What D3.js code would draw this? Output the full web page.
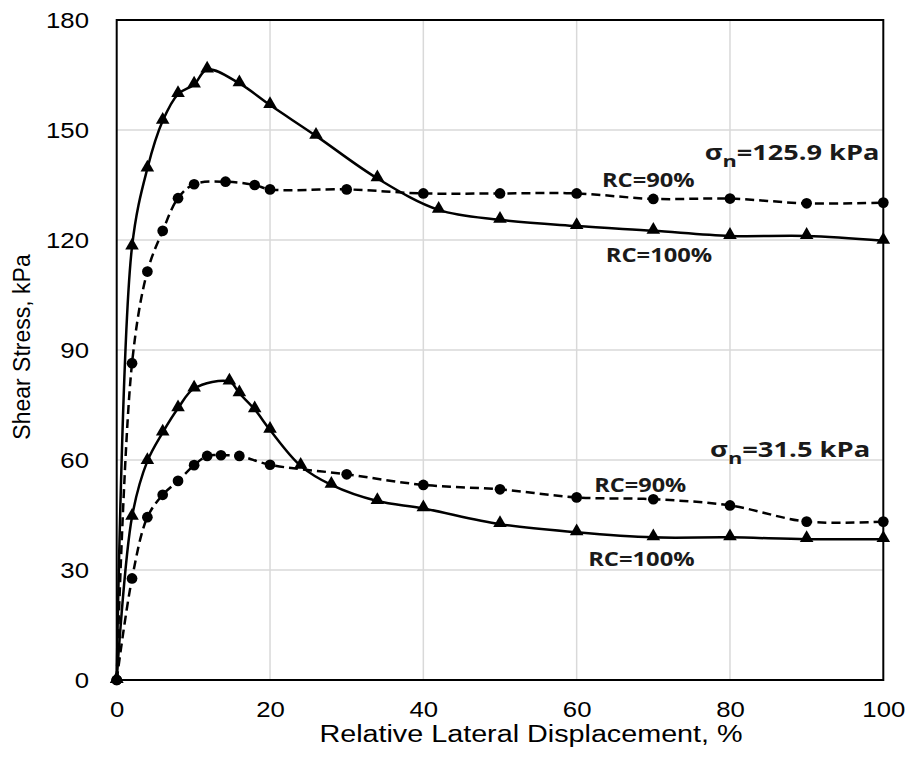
<!DOCTYPE html>
<html>
<head>
<meta charset="utf-8">
<script src="https://d3js.org/d3.v7.min.js"></script>
<style>
  body { margin: 0; background: #fff; }
  svg { display: block; }
</style>
</head>
<body>
<div id="chart"></div>
<script>
var xTicks = [0, 20, 40, 60, 80, 100];
var yTicks = [0, 30, 60, 90, 120, 150, 180];

// sigma_n = 125.9 kPa
var highX100 = [0, 2, 4, 6, 8, 10.1, 11.8, 16, 20, 26, 34, 42, 50, 60, 70, 80, 90, 100];
var highY100 = [0, 118.2, 139.5, 152.5, 159.8, 162.4, 166.5, 162.7, 156.8, 148.4, 136.8, 128.2, 125.5, 123.8, 122.5, 121.1, 121.1, 119.8];
var highX90 = [0, 2, 4, 6, 8, 10.1, 14.2, 18, 20, 30, 40, 50, 60, 70, 80, 90, 100];
var highY90 = [0, 86.4, 111.4, 122.5, 131.4, 135.2, 135.9, 135.0, 133.8, 133.8, 132.7, 132.7, 132.7, 131.2, 131.3, 130.0, 130.2];

// sigma_n = 31.5 kPa
var lowX100 = [0, 2, 4, 6, 8, 10.1, 14.7, 16, 18, 20, 24, 28, 34, 40, 50, 60, 70, 80, 90, 100];
var lowY100 = [0, 44.5, 59.7, 67.5, 74.1, 79.5, 81.4, 78.2, 73.8, 68.2, 58.4, 53.2, 48.8, 46.8, 42.5, 40.3, 38.9, 38.9, 38.4, 38.4];
var lowX90 = [0, 2, 4, 6, 8, 10.1, 11.8, 13.6, 16, 20, 30, 40, 50, 60, 70, 80, 90, 100];
var lowY90 = [0, 27.7, 44.4, 50.5, 54.3, 58.6, 61.1, 61.3, 61.1, 58.7, 56.1, 53.2, 52.0, 49.8, 49.3, 47.6, 43.2, 43.2];

// annotation text, anchored in data units: [left x, right x, baseline y]
var noteText = ["σ|n|=125.9 kPa", "RC=90%", "RC=100%", "σ|n|=31.5 kPa", "RC=90%", "RC=100%"];
var noteLeft = [76.7, 63.3, 63.8, 77.4, 62.3, 61.5];
var noteRight = [99.5, 75.4, 77.7, 98.3, 74.3, 75.4];
var noteBase = [141.8, 134.5, 114.1, 60.9, 51.4, 31.2];
var noteSize = [21, 20, 20, 21, 20, 20];

var W = 913, H = 757;
var margin = {top: 20, right: 29.7, bottom: 77, left: 116.7};
var width = W - margin.left - margin.right,
    height = H - margin.top - margin.bottom;

var svg = d3.select("#chart")
  .append("svg")
    .attr("width", W)
    .attr("height", H)
    .style("background", "#fff");

var g = svg.append("g")
    .attr("transform", "translate(" + margin.left + "," + margin.top + ")");

var x = d3.scaleLinear().domain([0, 100]).range([0, width]);
var y = d3.scaleLinear().domain([0, 180]).range([height, 0]);

// grid
g.append("g")
  .selectAll("line")
  .data(xTicks.slice(1, -1))
  .enter().append("line")
    .attr("x1", d => x(d)).attr("x2", d => x(d))
    .attr("y1", 0).attr("y2", height)
    .attr("stroke", "#d9d9d9").attr("stroke-width", 1.5);
g.append("g")
  .selectAll("line")
  .data(yTicks.slice(1, -1))
  .enter().append("line")
    .attr("x1", 0).attr("x2", width)
    .attr("y1", d => y(d)).attr("y2", d => y(d))
    .attr("stroke", "#d9d9d9").attr("stroke-width", 1.5);

// axes (labels only, the frame is drawn below)
var xAxis = g.append("g")
    .attr("transform", "translate(0," + height + ")")
    .call(d3.axisBottom(x).tickValues(xTicks).tickSize(0).tickPadding(21));
var yAxis = g.append("g")
    .call(d3.axisLeft(y).tickValues(yTicks).tickSize(0));
[xAxis, yAxis].forEach(function(a) {
  a.select(".domain").remove();
  a.selectAll("text")
    .attr("font-family", "'Liberation Sans', Arial, sans-serif")
    .attr("font-size", 22)
    .attr("fill", "#000");
});
xAxis.selectAll("text").attr("transform", "scale(1.17,1)");
yAxis.selectAll("text").attr("x", -23.7).attr("transform", "scale(1.17,1)");

g.append("rect")
    .attr("width", width).attr("height", height)
    .attr("fill", "none").attr("stroke", "#000").attr("stroke-width", 2);

// series
function pts(xs, ys) { return xs.map(function(d, i) { return [d, ys[i]]; }); }
var series = [
  {data: pts(highX100, highY100), dash: null, mark: "tri"},
  {data: pts(highX90, highY90), dash: "9,5", mark: "dot"},
  {data: pts(lowX100, lowY100), dash: null, mark: "tri"},
  {data: pts(lowX90, lowY90), dash: "9,5", mark: "dot"}
];

var line = d3.line()
    .x(d => x(d[0]))
    .y(d => y(d[1]))
    .curve(d3.curveCatmullRom.alpha(0.5));

series.forEach(function(s) {
  g.append("path")
    .datum(s.data)
    .attr("d", line)
    .attr("fill", "none")
    .attr("stroke", "#000")
    .attr("stroke-width", 2.5)
    .attr("stroke-dasharray", s.dash);

  var sym = d3.symbol().type(s.mark == "tri" ? d3.symbolTriangle : d3.symbolCircle)
      .size(s.mark == "tri" ? 80 : 90);
  g.append("g")
    .selectAll("path")
    .data(s.data)
    .enter().append("path")
      .attr("d", sym)
      .attr("transform", d => "translate(" + x(d[0]) + "," + (y(d[1]) + (s.mark == "tri" ? -1 : 0)) + ")")
      .attr("fill", "#000");
});

// annotations, stretched to the width they take in the reference
noteText.forEach(function(t, i) {
  var parts = t.split("|");
  var txt = g.append("text")
      .attr("font-family", "'Open Sans', 'Noto Sans', sans-serif")
      .attr("font-weight", 700)
      .attr("font-size", noteSize[i])
      .attr("fill", "#1a1a1a");
  if (parts.length == 3) {
    txt.append("tspan").text(parts[0]);
    txt.append("tspan").attr("dy", 7).attr("font-size", noteSize[i] * 0.8).text(parts[1]);
    txt.append("tspan").attr("dy", -7).text(parts[2]);
  } else {
    txt.text(t);
  }
  var w = txt.node().getBBox().width;
  var target = x(noteRight[i]) - x(noteLeft[i]);
  txt.attr("transform", "translate(" + x(noteLeft[i]) + "," + y(noteBase[i]) + ") scale(" + (target / w) + ",1)");
});

// axis titles
svg.append("text")
    .attr("transform", "translate(531,742) scale(1.25,1)")
    .attr("text-anchor", "middle")
    .attr("font-family", "'Liberation Sans', Arial, sans-serif")
    .attr("font-size", 23)
    .text("Relative Lateral Displacement, %");

svg.append("text")
    .attr("transform", "translate(30,347) rotate(-90)")
    .attr("text-anchor", "middle")
    .attr("font-family", "'Liberation Sans', Arial, sans-serif")
    .attr("font-size", 23)
    .text("Shear Stress, kPa");
</script>
</body>
</html>
